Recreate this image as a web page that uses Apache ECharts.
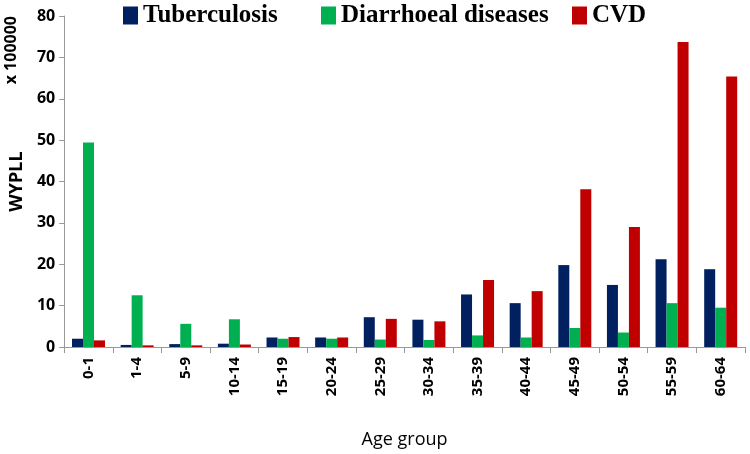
<!DOCTYPE html>
<html><head><meta charset="utf-8">
<script src="https://cdn.jsdelivr.net/npm/echarts@6/dist/echarts.min.js"></script>
<style>html,body{margin:0;padding:0;background:#fff}#c{width:750px;height:454px}</style>
</head><body><div id="c"></div>
<script>
const categories = ['0-1','1-4','5-9','10-14','15-19','20-24','25-29','30-34','35-39','40-44','45-49','50-54','55-59','60-64'];
const tuberculosis = [2.0,0.5,0.7,0.8,2.3,2.3,7.2,6.6,12.7,10.6,19.8,15.0,21.2,18.8];
const diarrhoeal = [49.4,12.5,5.6,6.7,2.0,2.0,1.8,1.7,2.8,2.3,4.6,3.5,10.6,9.5];
const cvd = [1.6,0.4,0.4,0.6,2.4,2.3,6.8,6.2,16.2,13.5,38.1,29.0,73.7,65.4];
const yTicks = [0,10,20,30,40,50,60,70,80];

const chart = echarts.init(document.getElementById('c'), null, {renderer:'canvas'});
const legendText = {fontFamily:'Liberation Serif', fontWeight:'bold', fontSize:25, color:'#000'};
const mkLegend = (name, left) => ({
  data:[name], left:left, top:3, itemWidth:15, itemHeight:18, itemGap:5,
  icon:'rect', textStyle:legendText, padding:0
});
chart.setOption({
  animation:false,
  legend:[mkLegend('Tuberculosis',123), mkLegend('Diarrhoeal diseases',321), mkLegend('CVD',572)],
  grid:{left:57, right:5, top:16, bottom:106, containLabel:false},
  xAxis:{
    type:'category', data:categories,
    name:'Age group', nameLocation:'middle', nameGap:84,
    nameTextStyle:{fontFamily:'Open Sans', fontSize:18, color:'#000'},
    axisLine:{lineStyle:{color:'#999'}},
    axisTick:{show:true, alignWithLabel:false, length:6, lineStyle:{color:'#999'}},
    axisLabel:{rotate:90, fontFamily:'Open Sans', fontWeight:'bold', fontSize:15, color:'#000', margin:10}
  },
  yAxis:{
    type:'value', min:yTicks[0], max:yTicks[yTicks.length-1], interval:10,
    name:'WYPLL', nameLocation:'middle', nameGap:29, nameRotate:90,
    nameTextStyle:{fontFamily:'Open Sans', fontSize:18, fontWeight:'bold', color:'#000'},
    axisLine:{show:true, lineStyle:{color:'#999'}},
    axisTick:{show:true, length:5, lineStyle:{color:'#999'}},
    splitLine:{show:false},
    axisLabel:{fontFamily:'Open Sans', fontWeight:'bold', fontSize:16, color:'#000', margin:9}
  },
  graphic:[{
    type:'text', left:3, top:16, rotation:Math.PI/2,
    style:{text:'x 100000', fontFamily:'Open Sans', fontWeight:'bold', fontSize:16, fill:'#000'}
  }],
  series:[
    {name:'Tuberculosis', type:'bar', data:tuberculosis, barWidth:11, barGap:'0%', itemStyle:{color:'#002060'}},
    {name:'Diarrhoeal diseases', type:'bar', data:diarrhoeal, barWidth:11, barGap:'0%', itemStyle:{color:'#00B050'}},
    {name:'CVD', type:'bar', data:cvd, barWidth:11, barGap:'0%', itemStyle:{color:'#C00000'}}
  ]
});
</script></body></html>
